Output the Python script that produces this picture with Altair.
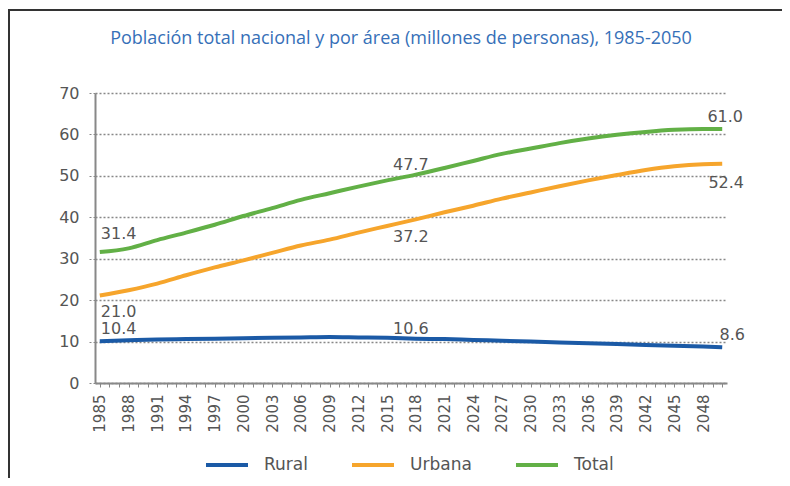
import altair as alt
import pandas as pd

# ---- data ----
years_all = list(range(1985, 2051))
x_tick_labels = ["1985", "1988", "1991", "1994", "1997", "2000", "2003", "2006",
                 "2009", "2012", "2015", "2018", "2021", "2024", "2027", "2030",
                 "2033", "2036", "2039", "2042", "2045", "2048"]
sample_years = [1985, 1988, 1991, 1994, 1997, 2000, 2003, 2006, 2009, 2012, 2015,
                2018, 2021, 2024, 2027, 2030, 2033, 2036, 2039, 2042, 2045, 2048, 2050]
rural = [10.1, 10.3, 10.5, 10.6, 10.7, 10.8, 10.9, 11.0, 11.1, 11.0, 10.9,
         10.7, 10.6, 10.4, 10.2, 10.0, 9.8, 9.6, 9.4, 9.2, 9.0, 8.8, 8.6]
urbana = [21.1, 22.4, 24.0, 26.0, 27.9, 29.6, 31.4, 33.2, 34.6, 36.3, 37.9,
          39.5, 41.2, 42.8, 44.5, 46.0, 47.5, 48.9, 50.2, 51.4, 52.3, 52.8, 52.9]
total = [31.6, 32.5, 34.5, 36.3, 38.2, 40.3, 42.2, 44.2, 45.8, 47.4, 48.9,
         50.3, 51.9, 53.6, 55.3, 56.6, 57.9, 59.0, 59.9, 60.6, 61.1, 61.3, 61.3]
series_names = ["Rural", "Urbana", "Total"]

label_years = [1985, 2018, 2050]
label_rural = ["10.4", "10.6", "8.6"]
label_urbana = ["21.0", "37.2", "52.4"]
label_total = ["31.4", "47.7", "61.0"]

title_text = "Población total nacional y por área (millones de personas), 1985-2050"

# ---- styles ----
colors = ["#1b5aa6", "#f6a52c", "#62b046"]
text_color = "#555555"
font = "DejaVu Sans"
# (dx, dy, align) for each label, per series, in label_years order
label_style = {
    "Rural": [(1, -12, "left"), (-5, -10, "center"), (10, -12, "center")],
    "Urbana": [(1, 16, "left"), (-5, 18, "center"), (4, 19, "center")],
    "Total": [(1, -18, "left"), (-5, -10, "center"), (3, -12, "center")],
}

values_by_series = {"Rural": rural, "Urbana": urbana, "Total": total}
labels_by_series = {"Rural": label_rural, "Urbana": label_urbana, "Total": label_total}

rows = []
for name in series_names:
    for yr, v in zip(sample_years, values_by_series[name]):
        rows.append({"year": yr, "value": v, "serie": name})
df = pd.DataFrame(rows)

x_enc = alt.X(
    "year:O",
    scale=alt.Scale(type="point", domain=years_all, padding=0.5),
    axis=alt.Axis(
        title=None,
        values=years_all,
        labelExpr="indexof(" + str(x_tick_labels).replace("'", '"') + ", datum.label) >= 0 ? datum.label : ''",
        labelAngle=-90,
        labelFont=font,
        labelFontSize=15,
        labelColor=text_color,
        labelPadding=7,
        labelOverlap=False,
        tickSize=4,
        tickColor="#888888",
        domainColor="#888888",
        domainWidth=2,
        grid=False,
    ),
)
y_enc = alt.Y(
    "value:Q",
    scale=alt.Scale(domain=[0, 70], nice=False),
    axis=alt.Axis(
        title=None,
        values=[0, 10, 20, 30, 40, 50, 60, 70],
        labelFont=font,
        labelFontSize=16,
        labelColor=text_color,
        labelPadding=10,
        tickSize=6,
        tickColor="#888888",
        tickDash=[2, 2],
        domainColor="#888888",
        domainWidth=2,
        grid=True,
        gridColor="#888888",
        gridDash=[2, 2],
        gridWidth=1.3,
    ),
)

lines = alt.Chart(df).mark_line(strokeWidth=4, interpolate="monotone").encode(
    x=x_enc,
    y=y_enc,
    color=alt.Color(
        "serie:N",
        scale=alt.Scale(domain=series_names, range=colors),
        legend=alt.Legend(
            title=None,
            orient="none",
            legendX=109,
            legendY=349,
            direction="horizontal",
            symbolType="stroke",
            symbolStrokeWidth=4,
            symbolSize=1764,
            labelOffset=14,
            columnPadding=36,
            labelFont=font,
            labelFontSize=17,
            labelColor=text_color,
        ),
    ),
)

layers = [lines]
for name in series_names:
    vals = dict(zip(sample_years, values_by_series[name]))
    for i, yr in enumerate(label_years):
        dx, dy, al = label_style[name][i]
        ldf = pd.DataFrame([{"year": yr, "value": vals[yr], "txt": labels_by_series[name][i]}])
        layers.append(
            alt.Chart(ldf).mark_text(
                dx=dx, dy=dy, align=al, baseline="middle",
                font=font, fontSize=16, color=text_color,
            ).encode(x="year:O", y="value:Q", text="txt:N")
        )

frame = pd.DataFrame({"k": [0]})
top_border = alt.Chart(frame).mark_rule(color="#333333", strokeWidth=2).encode(
    x=alt.value(-87), x2=alt.value(690), y=alt.value(-83)
)
left_border = alt.Chart(frame).mark_rule(color="#333333", strokeWidth=2).encode(
    x=alt.value(-86), y=alt.value(-83), y2=alt.value(386)
)
layers += [top_border, left_border]

chart = alt.layer(*layers).properties(
    width=632,
    height=290,
    padding={"left": 87, "top": 85, "right": 55, "bottom": 95},
    autosize=alt.AutoSizeParams(type="none"),
    title=alt.Title(
        title_text,
        font="Open Sans",
        fontSize=18,
        fontWeight="normal",
        color="#3670b8",
        anchor="middle",
        frame="group",
        baseline="alphabetic",
        offset=-53,
        dx=-10,
    ),
).configure_view(stroke=None)

chart.save("out.html", embed_options={"renderer": "svg", "actions": False})
